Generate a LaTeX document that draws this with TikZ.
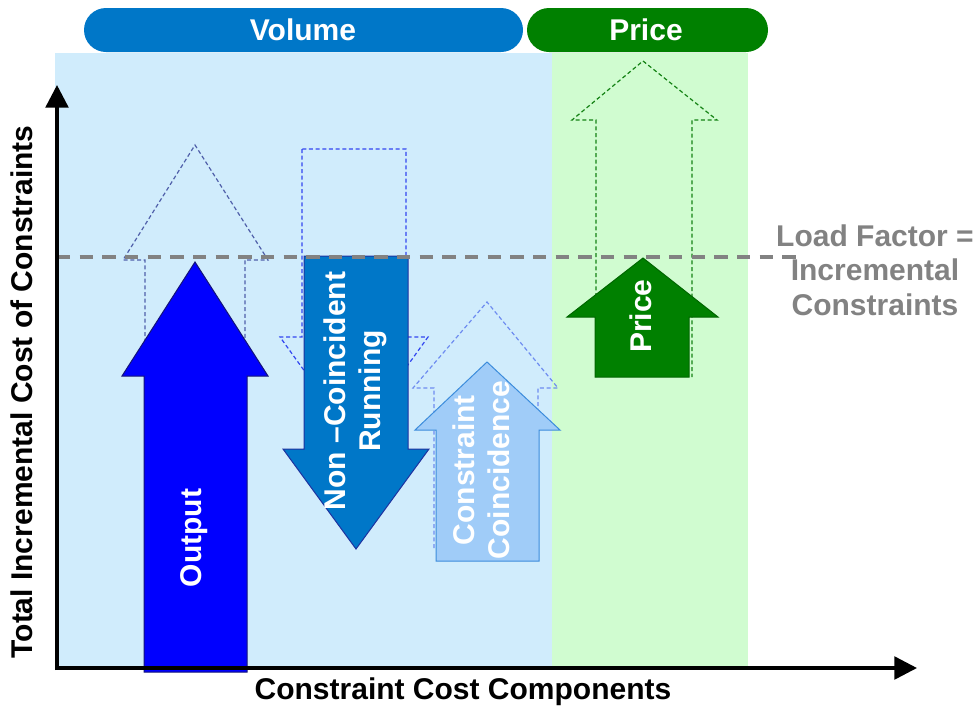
\documentclass[tikz,border=0pt]{standalone}
\usepackage{fontspec}
\setmainfont{Liberation Sans}
\usetikzlibrary{arrows.meta}

\definecolor{volblue}{RGB}{0,119,200}
\definecolor{pricegreen}{RGB}{0,128,0}
\definecolor{volpanel}{RGB}{208,236,252}
\definecolor{pricepanel}{RGB}{208,252,208}
\definecolor{outblue}{RGB}{0,0,255}
\definecolor{outedge}{RGB}{20,20,120}
\definecolor{ncedge}{RGB}{30,50,160}
\definecolor{coinblue}{RGB}{160,204,248}
\definecolor{coinedge}{RGB}{60,140,220}
\definecolor{outghost}{RGB}{80,96,170}
\definecolor{ncghost}{RGB}{50,70,240}
\definecolor{ccghost}{RGB}{110,140,240}
\definecolor{prghost}{RGB}{20,130,20}
\definecolor{loadgray}{RGB}{130,130,130}

\tikzset{
	ghost/.style={dash pattern=on 3pt off 2pt, line width=0.9pt},
	bigarrow/.style={line width=0.75pt},
	lbl/.style={font=\bfseries\fontsize{22.5}{26}\selectfont, text=white, align=center, inner sep=0pt},
	axislbl/.style={font=\bfseries\fontsize{22.5}{26}\selectfont, inner sep=0pt},
}

\begin{document}
\begin{tikzpicture}[x=0.75pt, y=-0.75pt]
		%%%%% START %%%%%
		\useasboundingbox (0, 0) rectangle (977, 711);
		
		% panels
		\fill[volpanel] (55, 53) rectangle (552, 668);
		\fill[pricepanel] (552, 53) rectangle (748, 668);
		
		% headers
		\fill[volblue, rounded corners=16.5pt] (84, 8) rectangle (523, 52);
		\fill[pricegreen, rounded corners=16.5pt] (527, 8) rectangle (768, 52);
		\node[lbl] (volume) at (303, 30) {Volume};
		\node[lbl] (price) at (646, 30) {Price};
		
		% dashed outlines
		\draw[ghost, color=outghost] (145, 376) -- (145, 260) -- (123, 260) -- (195, 145) -- (268, 260) -- (245, 260) -- (245, 376);
		\draw[ghost, color=ncghost] (302, 149) -- (302, 337) -- (280, 337) -- (354, 440) -- (428, 337) -- (406, 337) -- (406, 149) -- cycle;
		\draw[ghost, color=ccghost] (434, 548) -- (434, 388) -- (413, 388) -- (487, 302) -- (558, 388) -- (538, 388) -- (538, 548);
		\draw[ghost, color=prghost] (596, 377) -- (596, 120) -- (572, 120) -- (643, 61) -- (717, 120) -- (692, 120) -- (692, 377);
		
		% solid arrows
		\draw[bigarrow, fill=outblue, draw=outedge] (144, 672) -- (144, 376) -- (122, 376) -- (195, 262) -- (268, 376) -- (247, 376) -- (247, 672) -- cycle;
		\draw[bigarrow, fill=volblue, draw=ncedge] (304, 256) -- (304, 449) -- (283, 449) -- (356, 549) -- (429, 449) -- (408, 449) -- (408, 256) -- cycle;
		\draw[bigarrow, fill=coinblue, draw=coinedge] (436, 561) -- (436, 430) -- (415, 430) -- (487, 362) -- (560, 430) -- (539, 430) -- (539, 561) -- cycle;
		\draw[bigarrow, fill=pricegreen, draw=black!60!green] (595, 377) -- (595, 317) -- (567, 317) -- (643, 258) -- (718, 317) -- (689, 317) -- (689, 377) -- cycle;
		
		\node[lbl, rotate=90] (output) at (194, 538) {Output};
		\node[lbl, rotate=90] (noncoin) at (355, 391) {Non –Coincident\\Running};
		\node[lbl, rotate=90] (coincide) at (481, 470) {Constraint\\Coincidence};
		\node[lbl, rotate=90] (pricelbl) at (641, 316) {Price};
		
		% load factor
		\draw[loadgray, line width=3pt, dash pattern=on 10pt off 7pt] (57, 257) -- (805, 257);
		\node[axislbl, text=loadgray, align=center] (loadfactor) at (875, 270) {Load Factor =\\Incremental\\Constraints};
		
		% axes
		\draw[line width=2.6pt, -{Triangle[length=17pt, width=17pt]}] (57, 670) -- (57, 85);
		\draw[line width=2.6pt, -{Triangle[length=17pt, width=17pt]}] (55, 668) -- (917, 668);
		\node[axislbl] (xlabel) at (463, 692) {Constraint Cost Components};
		\node[axislbl, rotate=90] (ylabel) at (22, 392) {Total Incremental Cost of Constraints};
		
		%%%%% END %%%%%
\end{tikzpicture}
\end{document}
